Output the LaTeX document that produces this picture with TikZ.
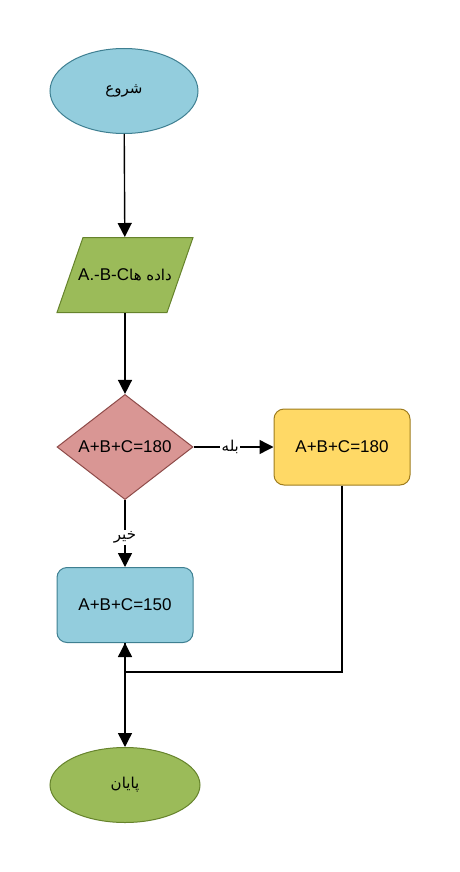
\documentclass[tikz,border=0pt]{standalone}
\usepackage{fontspec}
\setmainfont{Liberation Sans}
\newfontfamily\arabicfont[Script=Arabic]{DejaVu Sans}
\TeXXeTstate=1
\usetikzlibrary{shapes.geometric,arrows.meta}
\definecolor{skyfill}{HTML}{93CDDD}
\definecolor{skyline}{HTML}{3E7F91}
\definecolor{leaffill}{HTML}{9BBB59}
\definecolor{leafline}{HTML}{66832C}
\definecolor{rosefill}{HTML}{D99694}
\definecolor{roseline}{HTML}{8E4B49}
\definecolor{sunfill}{HTML}{FFD966}
\definecolor{sunline}{HTML}{9E7C1F}
\newcommand{\fa}[1]{{\arabicfont\fontsize{15}{18}\selectfont\beginR #1\endR}}

\begin{document}
\begin{tikzpicture}[x=1pt,y=-1pt,
		shape box/.style={line width=1pt,inner sep=0pt,font=\fontsize{17}{20}\selectfont},
		flow/.style={line width=1.4pt,-{Triangle[length=14pt,width=14pt]}},
		tag/.style={fill=white,inner sep=1.5pt}]
	\useasboundingbox (0,0) rectangle (460,872);
	\node[shape box,ellipse,minimum width=148,minimum height=85,fill=skyfill,draw=skyline] (start) at (124,91) {\fa{شروع}};
	% slanted input box
	\filldraw[line width=1pt,fill=leaffill,draw=leafline] (57,312.5) -- (167,312.5) -- (193,237.5) -- (83,237.5) -- cycle;
	\node[shape box,minimum width=136,minimum height=75] (data) at (125,275) {A.-B-C\fa{داده ها}};
	\node[shape box,diamond,minimum width=136,minimum height=104,fill=rosefill,draw=roseline] (sum180) at (125,447) {A+B+C=180};
	\node[shape box,rounded corners=10pt,minimum width=136,minimum height=76,fill=sunfill,draw=sunline] (yes180) at (342,447) {A+B+C=180};
	\node[shape box,rounded corners=10pt,minimum width=136,minimum height=75,fill=skyfill,draw=skyline] (sum150) at (125,605) {A+B+C=150};
	\node[shape box,ellipse,minimum width=150,minimum height=75,fill=leaffill,draw=leafline] (stop) at (125,785) {\fa{پایان}};
	\coordinate (join) at (125,672);
	% links
	\draw[flow] (start) -- (data);
	\draw[flow] (data) -- (sum180);
	\draw[flow] (sum180) -- node[tag,pos=.46] {\fa{بله}} (yes180);
	\draw[flow] (sum180) -- node[tag,pos=.56] {\fa{خیر}} (sum150);
	\draw[flow] (yes180) |- (join) -- (sum150);
	\draw[flow] (sum150) -- (stop);
\end{tikzpicture}
\end{document}
